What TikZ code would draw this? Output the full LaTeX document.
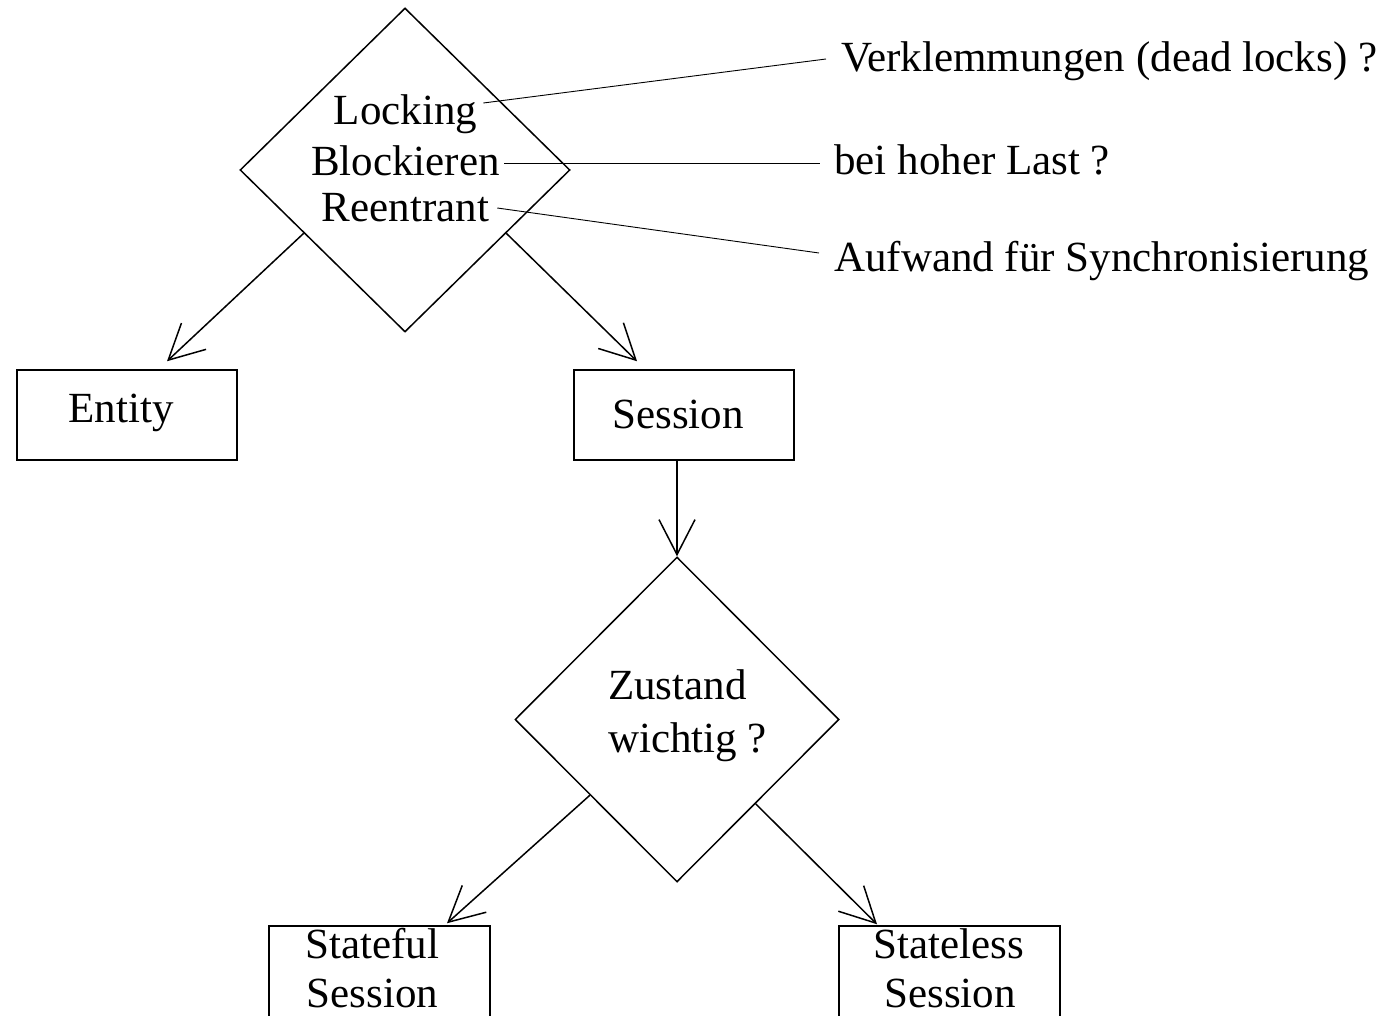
\documentclass[tikz,border=0pt]{standalone}
\usepackage{fontspec}
\setmainfont{Liberation Serif}
\usetikzlibrary{shapes.geometric,arrows.meta}
\begin{document}
\begin{tikzpicture}[x=1pt,y=-1pt,
  every node/.style={inner sep=0pt,font=\fontsize{43}{49}\selectfont},
  txt/.style={anchor=base},
  txtl/.style={anchor=base west},
  dia/.style={draw,shape=diamond,line width=1.5pt},
  box/.style={draw,rectangle,line width=1.5pt},
  arr/.style={line width=1.5pt,-{Straight Barb[length=35pt,width=36pt]}},
  callout/.style={line width=0.9pt}]
\useasboundingbox (0,0) rectangle (1382,1016);
\clip (0,0) rectangle (1382,1016);
% top decision
\node[dia,minimum width=330pt,minimum height=324pt] (topd) at (405,170) {};
\node[txt] (lock) at (405.5,125) {Locking};
\node[txt] (block) at (405.5,176) {Blockieren};
\node[txt] (reent) at (405.5,222) {Reentrant};
% remarks
\node[txtl] (verk) at (841,72) {Verklemmungen (dead locks) ?};
\node[txtl] (last) at (834,175) {bei hoher Last ?};
\node[txtl] (aufw) at (834,272) {Aufwand für Synchronisierung};
\draw[callout] ([xshift=6pt,yshift=22pt]lock.base east) -- ([xshift=-15pt,yshift=13pt]verk.base west);
\draw[callout] ([xshift=4pt,yshift=13pt]block.base east) -- ([xshift=-14pt,yshift=12pt]last.base west);
\draw[callout] ([xshift=8pt,yshift=14pt]reent.base east) -- ([xshift=-15pt,yshift=19pt]aufw.base west);
% boxes
\node[box,minimum width=220pt,minimum height=90pt] (entity) at (127,415) {};
\node[txt] (entityt) at (121,422) {Entity};
\node[box,minimum width=220pt,minimum height=90pt] (session) at (684,415) {};
\node[txt] (sessiont) at (678,428) {Session};
% second decision
\node[dia,minimum width=324pt,minimum height=325pt] (zust) at (677,719.5) {};
\node[txtl] (z1) at (608,699) {Zustand};
\node[txtl] (z2) at (608,752) {wichtig ?};
% bottom boxes
\node[box,minimum width=221pt,minimum height=114pt] (stful) at (379.5,983) {};
\node[txt] (stful1) at (372.5,958) {Stateful};
\node[txt] (stful2) at (372.5,1007) {Session};
\node[box,minimum width=221pt,minimum height=114pt] (stless) at (949.5,983) {};
\node[txt] (stless1) at (949,958) {Stateless};
\node[txt] (stless2) at (950,1007) {Session};
% arrows
\draw[arr] (topd.212) -- ([xshift=40pt,yshift=8pt]entity.north);
\draw[arr] (topd.328) -- ([xshift=-47pt,yshift=8pt]session.north);
\draw[arr] ([xshift=-7pt]session.south) -- (zust.north);
\draw[arr] (zust.221) -- ([xshift=67.5pt,yshift=2pt]stful.north);
\draw[arr] (zust.313) -- ([xshift=-72.5pt,yshift=1pt]stless.north);
\end{tikzpicture}
\end{document}
